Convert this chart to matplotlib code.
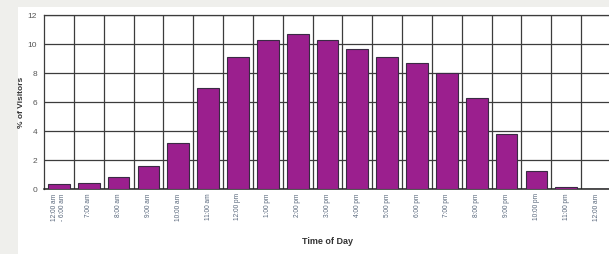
import matplotlib
matplotlib.use("Agg")
import matplotlib.pyplot as plt
from matplotlib.patches import Rectangle

# time slots and share of visitors (%)
hours = ["12:00 am\n- 6:00 am", "7:00 am", "8:00 am", "9:00 am", "10:00 am",
         "11:00 am", "12:00 pm", "1:00 pm", "2:00 pm", "3:00 pm", "4:00 pm",
         "5:00 pm", "6:00 pm", "7:00 pm", "8:00 pm", "9:00 pm", "10:00 pm",
         "11:00 pm", "12:00 am"]
visitors = [0.35, 0.4, 0.87, 1.62, 3.16, 7.0, 9.08, 10.28, 10.67, 10.28,
            9.63, 9.13, 8.67, 7.98, 6.3, 3.78, 1.26, 0.18, 0.05]
y_ticks = [0, 2, 4, 6, 8, 10, 12]

plt.rcParams['font.family'] = ['Liberation Sans', 'DejaVu Sans']

fig = plt.figure(figsize=(6.09, 2.54), dpi=100, facecolor='#efefec')
# white page area like the scanned source
fig.patches.append(Rectangle((18 / 609, 0), 1, 247 / 254, transform=fig.transFigure,
                             facecolor='white', edgecolor='none', zorder=-10))

ax = fig.add_axes([44 / 609, 64.7 / 254, 567 / 609, 174.3 / 254])
ax.set_zorder(2)
ax.set_facecolor('white')

x = list(range(len(hours)))
ax.bar(x, visitors, width=0.73, color='#9b1f8e', edgecolor='#3a2a44',
       linewidth=0.8, zorder=3)

ax.set_xlim(-0.5, len(hours) - 0.5)
ax.set_ylim(0, 12)
ax.set_yticks(y_ticks)
ax.set_xticks(x)
ax.set_xticklabels(hours, rotation=90, fontsize=4.7, color='#56657a',
                   multialignment='right')
ax.set_xticks([i - 0.5 for i in range(1, len(hours))], minor=True)
ax.tick_params(axis='x', which='both', length=0, pad=3)
ax.tick_params(axis='y', length=0, labelsize=6, labelcolor='#555555', pad=5)

ax.grid(True, which='minor', axis='x', color='#3c3c3c', linewidth=0.9, zorder=1)
ax.grid(True, which='major', axis='y', color='#3c3c3c', linewidth=0.9, zorder=1)

for side in ['left', 'top']:
    ax.spines[side].set_color('#3c3c3c')
    ax.spines[side].set_linewidth(0.9)
ax.spines['right'].set_visible(False)
ax.spines['bottom'].set_color('#222222')
ax.spines['bottom'].set_linewidth(1.1)

ax.set_ylabel('% of Visitors', fontsize=6, fontweight='bold', color='#333333', labelpad=2)
ax.set_xlabel('Time of Day', fontsize=6.5, fontweight='bold', color='#333333')
ax.xaxis.set_label_coords(0.5, -0.275)

fig.savefig('out.png', dpi=100, facecolor=fig.get_facecolor())
